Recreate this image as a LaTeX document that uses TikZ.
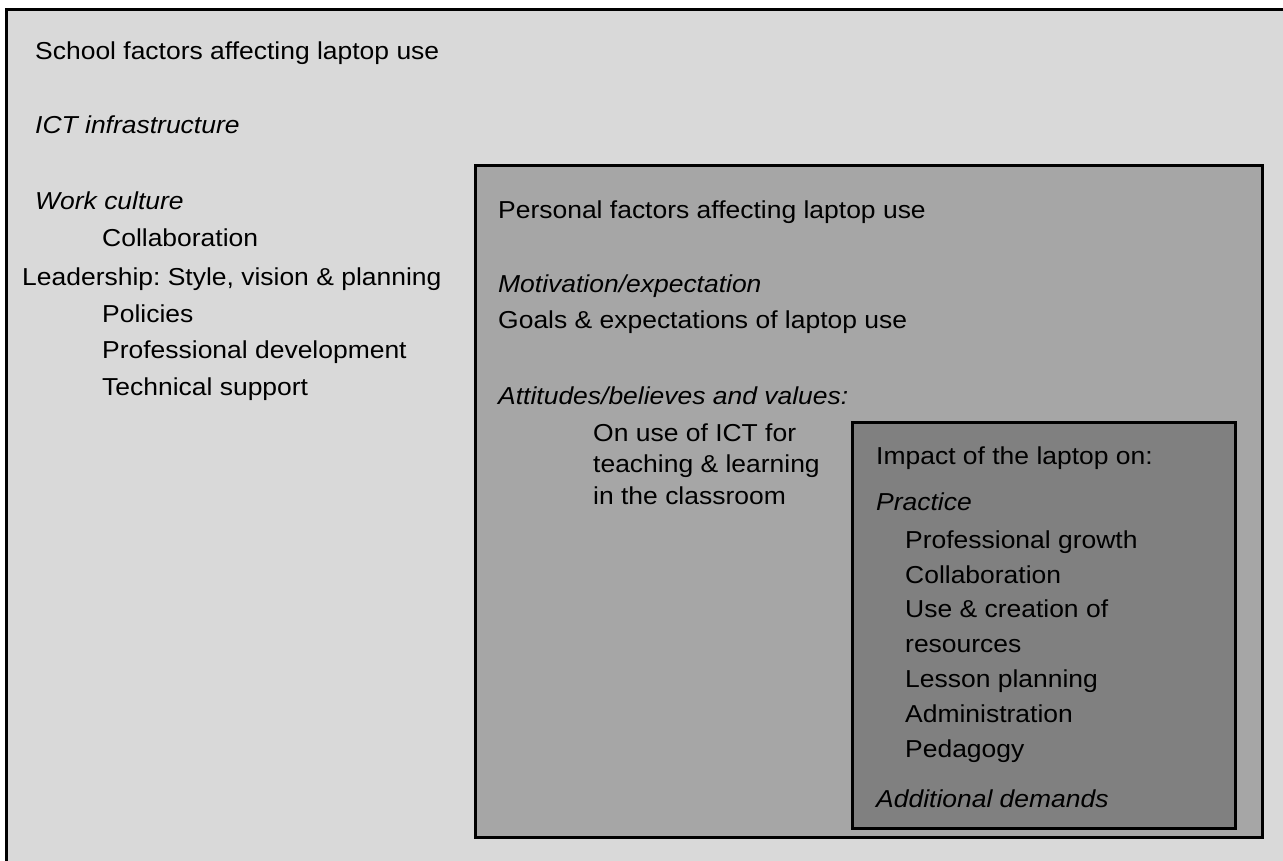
\documentclass[tikz,border=0pt]{standalone}
\usepackage{fontspec}
\setmainfont{Liberation Sans}[FakeStretch=1.08]
\frenchspacing
\begin{document}
\begin{tikzpicture}[x=1pt,y=-1pt,
  txt/.style={anchor=base west,inner sep=0pt,font=\fontsize{24.5}{29}\selectfont},
  itx/.style={txt,font=\fontsize{24.5}{29}\selectfont\itshape},
  boxline/.style={draw=black,line width=3pt}]
\useasboundingbox (0,0) rectangle (1283,861);
\fill[white] (0,0) rectangle (1283,861);
% outer box
\draw[boxline,fill={rgb,255:red,217;green,217;blue,217}] (6.5,10) rectangle (1320,900);
% middle box
\draw[boxline,fill={rgb,255:red,166;green,166;blue,166}] (475.5,165.5) rectangle (1262.5,837.5);
% inner box
\draw[boxline,fill={rgb,255:red,128;green,128;blue,128}] (852.5,422.5) rectangle (1235.5,828);

% school factors
\node[txt] (s1) at (35,60) {School factors affecting laptop use};
\node[itx] (s2) at (35,134) {ICT infrastructure};
\node[itx] (s3) at (35,210) {Work culture};
\node[txt] (s4) at (102,247) {Collaboration};
\node[txt] (s5) at (22,285) {Leadership: Style, vision \& planning};
\node[txt] (s6) at (102,322) {Policies};
\node[txt] (s7) at (102,358) {Professional development};
\node[txt] (s8) at (102,395) {Technical support};

% personal factors
\node[txt] (p1) at (498,219) {Personal factors affecting laptop use};
\node[itx] (p2) at (498,292) {Motivation/expectation};
\node[txt] (p3) at (498,328) {Goals \& expectations of laptop use};
\node[itx] (p4) at (498,404) {Attitudes/believes and values:};
\node[txt] (p5) at (593,441) {On use of ICT for};
\node[txt] (p6) at (593,472) {teaching \& learning};
\node[txt] (p7) at (593,504) {in the classroom};

% impact
\node[txt] (i1) at (876,464) {Impact of the laptop on:};
\node[itx] (i2) at (876,510) {Practice};
\node[txt] (i3) at (905,548) {Professional growth};
\node[txt] (i4) at (905,583) {Collaboration};
\node[txt] (i5) at (905,617) {Use \& creation of};
\node[txt] (i6) at (905,652) {resources};
\node[txt] (i7) at (905,687) {Lesson planning};
\node[txt] (i8) at (905,722) {Administration};
\node[txt] (i9) at (905,757) {Pedagogy};
\node[itx] (i10) at (876,807) {Additional demands};
\end{tikzpicture}
\end{document}
